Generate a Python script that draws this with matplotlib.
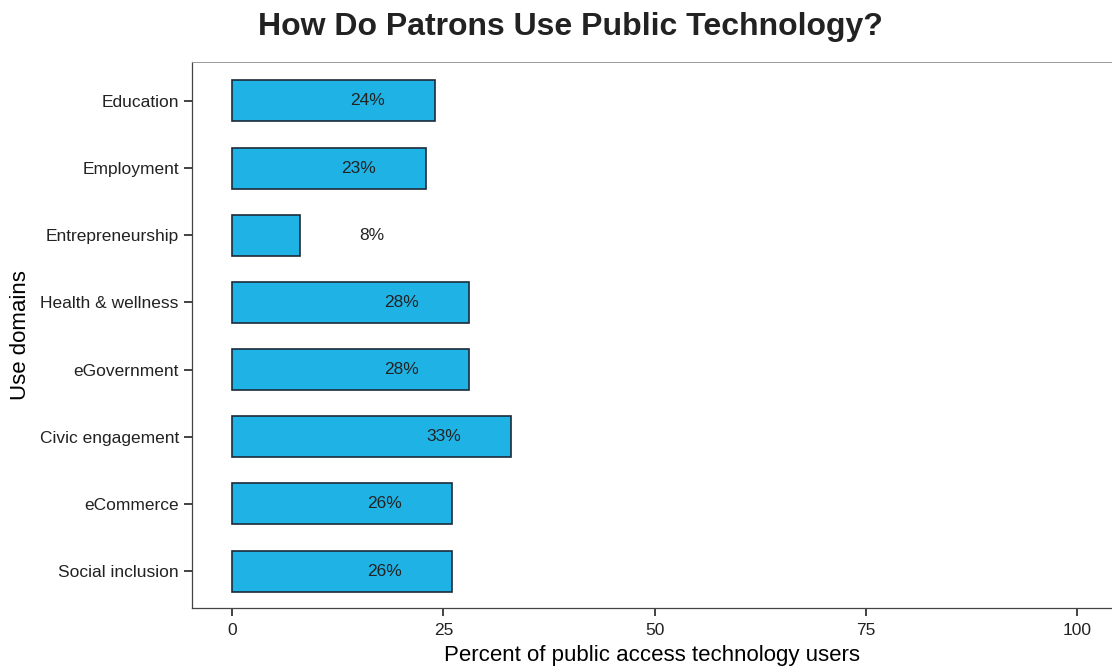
import numpy as np
import matplotlib.pyplot as plt

# Share of public access technology users by use domain
domains = ["Education", "Employment", "Entrepreneurship", "Health & wellness",
           "eGovernment", "Civic engagement", "eCommerce", "Social inclusion"]
percent = [24, 23, 8, 28, 28, 33, 26, 26]

plt.rcParams["font.family"] = ["Liberation Sans", "DejaVu Sans"]

fig = plt.figure(figsize=(11.12, 6.68), dpi=100)
ax = fig.add_axes([0.1727, 0.0898, 0.8273, 0.8174])

y = np.arange(len(domains))
ax.barh(y, percent, height=0.61, color="#1fb3e5", edgecolor="#1c2b3a",
        linewidth=1.2, zorder=3)

# value labels sit inside the bar, short bars get theirs outside
for yi, v in zip(y, percent):
    xpos = v - 8 if v > 16 else v + 8.5
    ax.text(xpos, yi, f"{v}%", ha="center", va="center", fontsize=12.5,
            color="#222222", zorder=4)

ax.set_yticks(y)
ax.set_yticklabels(domains)
ax.set_ylim(len(domains) - 1 + 0.55, -0.58)
ax.set_xlim(-4.73, 104.1)
ax.set_xticks([0, 25, 50, 75, 100])
ax.tick_params(axis="both", direction="out", length=6, width=1.2,
               labelsize=12.5, colors="#222222")
ax.tick_params(axis="x", pad=5)

for side in ["left", "bottom"]:
    ax.spines[side].set_color("#444444")
    ax.spines[side].set_linewidth(0.9)
ax.spines["top"].set_color("#999999")
ax.spines["top"].set_linewidth(0.7)
ax.spines["right"].set_visible(False)

ax.set_xlabel("Percent of public access technology users", fontsize=16,
              labelpad=5)
ax.set_ylabel("Use domains", fontsize=16, labelpad=6)
fig.suptitle("How Do Patrons Use Public Technology?", fontsize=23,
             fontweight="bold", x=0.513, y=0.982, color="#222222")

fig.savefig("out.png", dpi=100)
